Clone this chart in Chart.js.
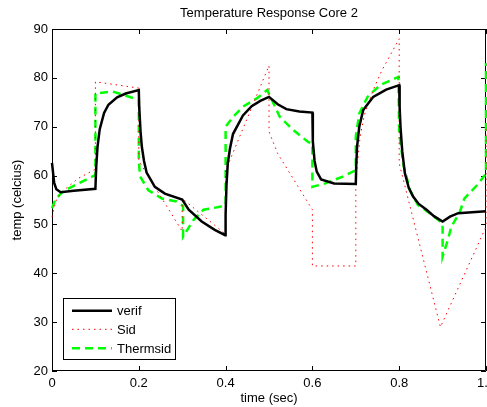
<!DOCTYPE html>
<html lang="en">
  <head>
    <meta charset="UTF-8" />
    <title>Temperature Response Core 2</title>
    <script src="https://cdn.jsdelivr.net/npm/chart.js@4.4.1/dist/chart.umd.min.js"></script>
    <style>
      body { margin: 0; background: #fff; }
      .chart-container { position: relative; width: 487px; height: 407px; }
    </style>
  </head>
  <body>
    <div class="chart-container">
      <canvas id="coreChart"></canvas>
    </div>

    <script>
      // values
      const xTicks = [0, 0.2, 0.4, 0.6, 0.8, 1];
      const yTicks = [20, 30, 40, 50, 60, 70, 80, 90];

      const verifT = [0, 0.005, 0.01, 0.02, 0.05, 0.1, 0.102, 0.105, 0.11, 0.12, 0.13, 0.15, 0.17, 0.2,
        0.201, 0.204, 0.207, 0.212, 0.218, 0.237, 0.26, 0.3, 0.315, 0.345, 0.375, 0.399,
        0.4, 0.402, 0.405, 0.41, 0.417, 0.44, 0.46, 0.48, 0.5, 0.52, 0.54, 0.57, 0.6,
        0.601, 0.605, 0.61, 0.62, 0.65, 0.7, 0.701, 0.703, 0.708, 0.717, 0.74, 0.77, 0.8,
        0.801, 0.803, 0.807, 0.813, 0.822, 0.832, 0.845, 0.863, 0.88, 0.9, 0.917, 0.936, 1];
      const verifTemp = [62.6, 58.5, 57.2, 56.6, 56.9, 57.3, 62, 66, 69.5, 72.8, 74.5, 76, 76.8, 77.5,
        74, 69, 65.9, 63, 60.6, 57.7, 56.3, 55.1, 53, 50.6, 48.9, 47.8,
        52, 58, 62.5, 65.5, 68.5, 72.3, 74.2, 75.3, 76.1, 74.6, 73.6, 73.1, 72.9,
        67, 63, 60.8, 59.2, 58.4, 58.3, 62, 66, 70, 73.4, 76.1, 77.6, 78.5,
        74, 70, 65, 60.5, 57.5, 55.7, 54.2, 53, 51.7, 50.6, 51.6, 52.3, 52.7];

      const sidT = [0, 0.005, 0.01, 0.02, 0.03, 0.06, 0.1, 0.1, 0.2, 0.2, 0.3, 0.3, 0.4, 0.4, 0.5,
        0.5, 0.52, 0.6, 0.6, 0.7, 0.7, 0.71, 0.72, 0.74, 0.76, 0.8, 0.8, 0.895, 1, 1];
      const sidTemp = [51.5, 53.5, 55, 56.3, 57.2, 59.4, 61.3, 79.2, 77.9, 63, 48.6, 55.3, 48, 61, 82.5,
        69, 64.5, 53, 41.5, 41.5, 59, 68, 72.5, 77.5, 81.5, 88, 62.5, 29, 49.5, 70];

      const thermT = [0, 0.005, 0.01, 0.02, 0.03, 0.1, 0.1, 0.14, 0.2, 0.2, 0.203, 0.222, 0.253, 0.287,
        0.302, 0.302, 0.326, 0.349, 0.387, 0.4, 0.4, 0.417, 0.44, 0.472, 0.496, 0.525, 0.556, 0.59, 0.6,
        0.6, 0.63, 0.67, 0.7, 0.7, 0.708, 0.727, 0.756, 0.798, 0.8, 0.81, 0.825, 0.843, 0.87, 0.9,
        0.9, 0.912, 0.92, 0.94, 0.95, 0.98, 1, 1];
      const thermTemp = [53.3, 54.5, 55.3, 56.3, 57, 60.1, 76.8, 77.2, 75.5, 63, 59.8, 57, 55.3, 54.7,
        53.8, 47.5, 50.9, 53, 53.6, 54, 70, 72, 74.1, 75.8, 77.5, 72, 69.3, 66.9, 66.5,
        57.7, 58.4, 59.8, 61.1, 68, 72.7, 76.1, 78.5, 80.2, 68.7, 62, 57, 54, 52.3, 50.2,
        43.4, 46.8, 49.5, 52.6, 55.3, 58.1, 60.4, 83];

      const toPoints = (xs, ys) => xs.map((x, i) => ({ x: x, y: ys[i] }));
      const FONT = "'Liberation Sans', Arial, Helvetica, sans-serif";

      // matlab-ish frame: box and inner ticks under the lines, legend and labels on top
      const matlabFrame = {
        id: 'matlabFrame',
        beforeDatasetsDraw(chart) {
          const ctx = chart.ctx;
          const a = chart.chartArea;
          const xs = chart.scales.x;
          const ys = chart.scales.y;
          ctx.save();
          ctx.strokeStyle = '#000';
          ctx.lineWidth = 1;
          ctx.beginPath();
          ctx.rect(a.left + 0.5, a.top + 0.5, a.right - a.left - 1, a.bottom - a.top - 1);
          ctx.stroke();

          const len = 5;
          ctx.beginPath();
          xTicks.forEach(v => {
            const px = Math.round(xs.getPixelForValue(v)) + 0.5;
            ctx.moveTo(px, a.bottom); ctx.lineTo(px, a.bottom - len);
            ctx.moveTo(px, a.top); ctx.lineTo(px, a.top + len);
          });
          yTicks.forEach(v => {
            const py = Math.round(ys.getPixelForValue(v)) + 0.5;
            ctx.moveTo(a.left, py); ctx.lineTo(a.left + len, py);
            ctx.moveTo(a.right, py); ctx.lineTo(a.right - len, py);
          });
          ctx.stroke();
          ctx.restore();
        },
        afterDraw(chart) {
          const ctx = chart.ctx;
          const a = chart.chartArea;
          ctx.save();
          ctx.strokeStyle = '#000';
          ctx.lineWidth = 1;

          // legend, lower left
          const lx = 63.5, ly = 298.5, lw = 112, lh = 61;
          ctx.fillStyle = '#fff';
          ctx.fillRect(lx, ly, lw, lh);
          ctx.strokeRect(lx, ly, lw, lh);
          const rows = [310.7, 329.3, 348.3];
          ctx.font = '13px ' + FONT;
          ctx.textAlign = 'left';
          ctx.textBaseline = 'middle';
          chart.data.datasets.forEach((ds, i) => {
            ctx.save();
            ctx.strokeStyle = ds.borderColor;
            ctx.lineWidth = ds.borderWidth;
            ctx.setLineDash(ds.borderDash || []);
            ctx.beginPath();
            ctx.moveTo(72, rows[i]);
            ctx.lineTo(112, rows[i]);
            ctx.stroke();
            ctx.restore();
            ctx.fillStyle = '#000';
            ctx.fillText(ds.label, 117, rows[i] + 1);
          });

          // title and axis labels
          ctx.fillStyle = '#000';
          ctx.textAlign = 'center';
          ctx.fillText('Temperature Response Core 2', (a.left + a.right) / 2, 13);
          ctx.fillText('time (sec)', (a.left + a.right) / 2, 398);
          ctx.translate(17, (a.top + a.bottom) / 2);
          ctx.rotate(-Math.PI / 2);
          ctx.fillText('temp (celcius)', 0, 0);
          ctx.restore();
        }
      };

      const ctxCore = document.getElementById('coreChart').getContext('2d');
      const coreChart = new Chart(ctxCore, {
        type: 'line',
        data: {
          datasets: [
            {
              label: 'verif',
              data: toPoints(verifT, verifTemp),
              borderColor: '#000000',
              borderWidth: 2.5,
            },
            {
              label: 'Sid',
              data: toPoints(sidT, sidTemp),
              borderColor: '#ff0000',
              borderWidth: 1,
              borderDash: [1.5, 4],
            },
            {
              label: 'Thermsid',
              data: toPoints(thermT, thermTemp),
              borderColor: '#00ff00',
              borderWidth: 2.5,
              borderDash: [8, 5],
            },
          ],
        },
        options: {
          responsive: true,
          maintainAspectRatio: false,
          animation: false,
          layout: { padding: { top: 29, right: 1, left: 0, bottom: 0 } },
          elements: { point: { radius: 0 }, line: { tension: 0, fill: false } },
          datasets: { line: { clip: false } },
          plugins: { legend: { display: false }, tooltip: { enabled: false } },
          scales: {
            x: {
              type: 'linear',
              min: 0,
              max: 1,
              grid: { display: false, drawTicks: false },
              border: { display: false },
              afterBuildTicks: s => { s.ticks = xTicks.map(v => ({ value: v })); },
              afterFit: s => { s.height = 36; s.paddingLeft = 0; s.paddingRight = 0; },
              ticks: { color: '#000', padding: 5, font: { family: FONT, size: 13 }, maxRotation: 0 },
            },
            y: {
              min: 20,
              max: 90,
              grid: { display: false, drawTicks: false },
              border: { display: false },
              afterBuildTicks: s => { s.ticks = yTicks.map(v => ({ value: v })); },
              afterFit: s => { s.width = 52; s.paddingTop = 0; s.paddingBottom = 0; },
              ticks: { color: '#000', padding: 4, font: { family: FONT, size: 13 } },
            },
          },
        },
        plugins: [matlabFrame],
      });
    </script>
  </body>
</html>
